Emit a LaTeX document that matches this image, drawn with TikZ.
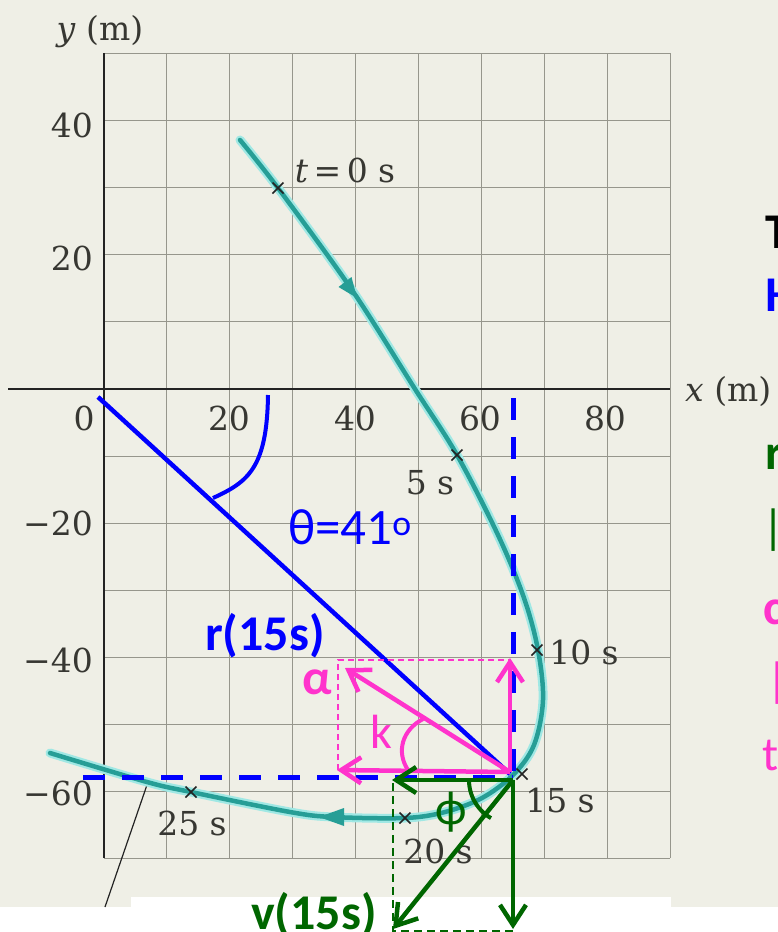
\documentclass[tikz,border=0pt]{standalone}
\usepackage{fontspec}
\newfontfamily\calib{Carlito}
\newfontfamily\dserif{DejaVu Serif}
\usetikzlibrary{arrows.meta}
\definecolor{bg}{RGB}{239,239,230}
\definecolor{gridc}{RGB}{150,150,140}
\definecolor{axisc}{RGB}{35,35,35}
\definecolor{labc}{RGB}{55,55,50}
\definecolor{trajc}{RGB}{38,158,150}
\definecolor{glowc}{RGB}{160,232,228}
\definecolor{bluec}{RGB}{0,0,255}
\definecolor{pinkc}{RGB}{255,51,204}
\definecolor{greenc}{RGB}{0,102,0}
\begin{document}
\begin{tikzpicture}[x=1pt,y=-1pt,
  ticklab/.style={font=\dserif\fontsize{33}{35}\selectfont, text=labc, inner sep=0pt},
  tlab/.style={font=\dserif\fontsize{33}{35}\selectfont, text=labc, inner sep=0pt},
  sansb/.style={font=\calib\bfseries\fontsize{50}{52}\selectfont, inner sep=0pt},
  sansr/.style={font=\calib\fontsize{48}{50}\selectfont, inner sep=0pt},
  gridline/.style={gridc, line width=1pt},
  axisline/.style={axisc, line width=1.8pt},
  crossmark/.style={axisc, line width=1.6pt},
  barb/.style={-{Straight Barb[length=20pt,width=26pt,line width=4.5pt]}},
  bigvec/.style={line width=4.5pt, barb},
  thindash/.style={line width=1.5pt, dash pattern=on 6pt off 4pt},
  bluedash/.style={bluec, line width=5pt, dash pattern=on 22pt off 17pt}
]
\useasboundingbox (0,0) rectangle (778,932);
% background
\fill[bg] (0,0) rectangle (778,907);
\fill[white] (0,907) rectangle (778,932);
\fill[white] (131,897) rectangle (671,907);
% grid
\foreach \i in {1,...,9} \draw[gridline] ({104+62.89*\i},53) -- ({104+62.89*\i},858);
\foreach \j in {-7,...,5} \draw[gridline] (104,{389-67.08*\j}) -- (670,{389-67.08*\j});
% axes
\draw[axisline] (8,389) -- (670,389);
\draw[axisline] (104,53) -- (104,858);
% axis labels
\node[ticklab] (ylab) at (100,32) {\textit{y} (m)};
\node[ticklab, anchor=west] (xlab) at (685,392) {\textit{x} (m)};
\node[ticklab] (x0) at (84,418) {0};
\node[ticklab] (x20) at (229,418) {20};
\node[ticklab] (x40) at (355,418) {40};
\node[ticklab] (x60) at (480,418) {60};
\node[ticklab] (x80) at (605,418) {80};
\node[ticklab, anchor=east] (y40) at (93,125) {40};
\node[ticklab, anchor=east] (y20) at (93,258) {20};
\node[ticklab, anchor=east] (ym20) at (93,523) {−20};
\node[ticklab, anchor=east] (ym40) at (93,660) {−40};
\node[ticklab, anchor=east] (ym60) at (93,793) {−60};
% leader line
\coordinate (L1) at (148,782);
\coordinate (L2) at (105,907);
\draw[axisc, line width=1.2pt] (L1) -- (L2);
% trajectory
\def\trajpts{(240,140) (278,188) (352,290) (415,389) (457,455) (498,535) (524,598) (538,650) (543,700) (534,745) (513,775) (482,798) (445,812) (405,818) (333,817) (290,812) (191,792) (147,782) (50,753)}
\draw[glowc, line width=9pt, line cap=round] plot[smooth, tension=0.55] coordinates {\trajpts};
\draw[trajc, line width=4.5pt, line cap=round] plot[smooth, tension=0.55] coordinates {\trajpts};
\fill[trajc] (357,298) -- (351.5,277) -- (338.5,287) -- cycle;
\fill[trajc] (319,817) -- (344,808) -- (344,826) -- cycle;
% crosses
\foreach \p/\q in {278/188, 457/455, 537/650, 522/774, 405/818, 191/792}
  \draw[crossmark] (\p-5.5,\q-5.5) -- (\p+5.5,\q+5.5) (\p-5.5,\q+5.5) -- (\p+5.5,\q-5.5);
% time labels
\node[tlab] (t0) at (345,170) {\textit{t}\,=\,0 s};
\node[tlab] (t5) at (430,483) {5 s};
\node[tlab] (t10) at (584,652) {10 s};
\node[tlab] (t15) at (560,800) {15 s};
\node[tlab] (t20) at (438,851) {20 s};
\node[tlab] (t25) at (192,823) {25 s};
% blue
\coordinate (O) at (98,397);
\coordinate (P) at (513,777);
\coordinate (Bv) at (513,398);
\coordinate (Bh) at (83,777);
\draw[bluedash] (Bv) -- (P);
\draw[bluedash] (Bh) -- (P);
\draw[bluec, line width=4.5pt] (O) -- (510,774);
\draw[bluec, line width=4pt] (268,395) .. controls (267,468) and (248,482) .. (213,498);
\node[sansr, text=bluec, anchor=west, font=\calib\fontsize{51}{53}\selectfont] (theta) at (288,527) {θ=41\textsuperscript{o}};
\node[sansb, text=bluec, anchor=base] (r15) at (265,650) {r(15s)};
% pink
\coordinate (Pk) at (510,772);
\draw[pinkc, thindash] (338,770) -- (338,660) -- (510,660);
\draw[pinkc, bigvec] (Pk) -- (510,658);
\draw[pinkc, bigvec] (Pk) -- (337,770);
\draw[pinkc, bigvec] (Pk) -- (345,668);
\draw[pinkc, line width=4pt] (423,719) .. controls (402,730) and (396,752) .. (408,770);
\node[sansb, text=pinkc] (alpha) at (317,682) {α};
\node[sansr, text=pinkc] (k) at (381,732) {k};
% green
\coordinate (G) at (513,780);
\draw[greenc, line width=1.5pt, dash pattern=on 8pt off 5pt] (393,783) -- (393,931) -- (513,931);
\draw[greenc, bigvec] (G) -- (392,780);
\draw[greenc, bigvec] (G) -- (513,929);
\draw[greenc, bigvec] (G) -- (393,929);
\draw[greenc, line width=4pt] plot[smooth, domain=0:60, samples=20] ({513-44*cos(\x)},{780+44*sin(\x)});
\node[sansr, text=greenc] (phi) at (451,812) {ϕ};
\node[sansb, text=greenc, anchor=base] (v15) at (314,929) {v(15s)};
% right edge fragments
\node[sansb, text=black, anchor=west] (rT) at (765,232) {T};
\node[sansb, text=bluec, anchor=west] (rH) at (765,295) {H};
\node[sansb, text=greenc, anchor=west] (rr) at (765,457) {r};
\node[sansr, text=greenc, anchor=west] (rbar1) at (762,530) {|};
\node[sansb, text=pinkc, anchor=west] (rc) at (763,612) {c};
\node[sansr, text=pinkc, anchor=west] (rbar2) at (766,683) {|};
\node[sansr, text=pinkc, anchor=west] (rt) at (762,755) {t};
\end{tikzpicture}
\end{document}
